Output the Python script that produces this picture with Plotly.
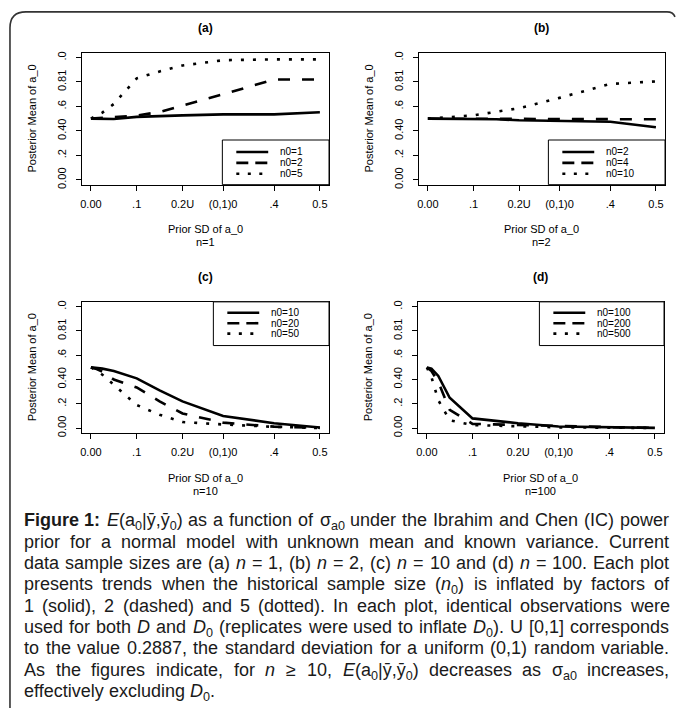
import re
import plotly.graph_objects as go

W, H = 676, 711

# ---------------- data ----------------
sd_grid = [0, 0.01, 0.025, 0.05, 0.1, 0.15, 0.2, 0.2887, 0.4, 0.5]
x_tick_vals = [0, 0.1, 0.2, 0.2887, 0.4, 0.5]
x_tick_text = ["0.00", ".1", "0.2U", "(0,1)0", ".4", "0.5"]
y_tick_vals = [0, 0.2, 0.4, 0.6, 0.8, 1.0]
y_tick_text = ["0.00", ".2", "0.40", ".6", "0.81", ".0"]

# panel (a), n = 1
a_n0_1 = [0.50, 0.50, 0.498, 0.497, 0.515, 0.522, 0.527, 0.535, 0.535, 0.553]
a_n0_2 = [0.50, 0.502, 0.505, 0.51, 0.525, 0.555, 0.605, 0.70, 0.82, 0.82]
a_n0_5 = [0.50, 0.52, 0.55, 0.62, 0.83, 0.886, 0.935, 0.978, 0.985, 0.985]
# panel (b), n = 2
b_n0_2 = [0.50, 0.50, 0.50, 0.50, 0.50, 0.495, 0.487, 0.48, 0.475, 0.43]
b_n0_4 = [0.50, 0.50, 0.50, 0.50, 0.50, 0.498, 0.496, 0.495, 0.495, 0.495]
b_n0_10 = [0.50, 0.502, 0.505, 0.513, 0.527, 0.554, 0.586, 0.67, 0.784, 0.805]
# panel (c), n = 10
c_n0_10 = [0.50, 0.498, 0.49, 0.47, 0.41, 0.31, 0.22, 0.10, 0.04, 0.005]
c_n0_20 = [0.50, 0.49, 0.465, 0.40, 0.335, 0.22, 0.12, 0.045, 0.012, 0.002]
c_n0_50 = [0.50, 0.48, 0.44, 0.355, 0.19, 0.11, 0.05, 0.03, 0.01, 0.001]
# panel (d), n = 100
d_n0_100 = [0.50, 0.49, 0.43, 0.25, 0.08, 0.06, 0.04, 0.013, 0.006, 0.002]
d_n0_200 = [0.50, 0.47, 0.38, 0.15, 0.035, 0.03, 0.022, 0.013, 0.008, 0.002]
d_n0_500 = [0.50, 0.42, 0.23, 0.065, 0.025, 0.02, 0.012, 0.006, 0.003, 0.001]

panel_letters = ["(a)", "(b)", "(c)", "(d)"]
panel_n_labels = ["n=1", "n=2", "n=10", "n=100"]
series_names = [["n0=1", "n0=2", "n0=5"],
                ["n0=2", "n0=4", "n0=10"],
                ["n0=10", "n0=20", "n0=50"],
                ["n0=100", "n0=200", "n0=500"]]
series_values = [[a_n0_1, a_n0_2, a_n0_5],
                 [b_n0_2, b_n0_4, b_n0_10],
                 [c_n0_10, c_n0_20, c_n0_50],
                 [d_n0_100, d_n0_200, d_n0_500]]
x_title = "Prior SD of a_0"
y_title = "Posterior Mean of a_0"

# ---------------- layout helpers ----------------
def px(x):
    return x / W

def py(y):
    return 1 - y / H

# plot boxes in pixels: (left, right, top, bottom)
boxes = [(80, 328, 52, 185), (418, 665, 52, 185),
         (80, 328, 303, 435), (417, 664, 303, 435)]
# legend boxes in pixels: (left, right, top, bottom, row0_y, row_step)
legends = [(221, 328, 140, 185, 152, 11), (548, 665, 140, 185, 152, 11),
           (212, 328, 303, 347, 314, 10.5), (539, 664, 303, 347, 314, 10.5)]

trace_dashes = ["solid", "12px,12px", "3px,9px"]
legend_dashes = ["solid", "12px,7px", "3px,8.5px"]

FONT = "Liberation Sans, Arial, Helvetica, sans-serif"
fig = go.Figure()
annotations = []
shapes = []

for i in range(4):
    ax = "" if i == 0 else str(i + 1)
    L, R, T, B = boxes[i]
    for k in range(3):
        fig.add_trace(go.Scatter(
            x=sd_grid, y=series_values[i][k], mode="lines",
            name=series_names[i][k], showlegend=False,
            line=dict(color="black", width=2.6, dash=trace_dashes[k]),
            xaxis="x" + ax, yaxis="y" + ax, hoverinfo="skip"))
    common = dict(showline=True, mirror=True, linecolor="black", linewidth=1,
                  ticks="outside", ticklen=5, tickwidth=1, tickcolor="black",
                  showgrid=False, zeroline=False,
                  tickfont=dict(family=FONT, size=11, color="black"))
    fig.update_layout(**{
        "xaxis" + ax: dict(domain=[px(L), px(R)], range=[-0.02, 0.52],
                           tickvals=x_tick_vals, ticktext=x_tick_text,
                           anchor="y" + ax, ticklabelstandoff=4, **common),
        "yaxis" + ax: dict(domain=[py(B), py(T)], range=[-0.04, 1.04],
                           tickvals=y_tick_vals, ticktext=y_tick_text,
                           tickangle=-90, anchor="x" + ax,
                           ticklabelstandoff=5, **common),
    })
    cx = (L + R) / 2
    cy = (T + B) / 2
    annotations.append(dict(x=px(cx), y=py(T - 25), xref="paper", yref="paper",
                            text="<b>%s</b>" % panel_letters[i], showarrow=False,
                            font=dict(family=FONT, size=12, color="black"),
                            xanchor="center", yanchor="middle"))
    annotations.append(dict(x=px(cx), y=py(B + 45), xref="paper", yref="paper",
                            text=x_title, showarrow=False,
                            font=dict(family=FONT, size=11, color="black"),
                            xanchor="center", yanchor="middle"))
    annotations.append(dict(x=px(cx), y=py(B + 58), xref="paper", yref="paper",
                            text=panel_n_labels[i], showarrow=False,
                            font=dict(family=FONT, size=11, color="black"),
                            xanchor="center", yanchor="middle"))
    annotations.append(dict(x=px(L - 50), y=py(cy), xref="paper", yref="paper",
                            text=y_title, showarrow=False, textangle=-90,
                            font=dict(family=FONT, size=11, color="black"),
                            xanchor="center", yanchor="middle"))
    # legend
    lL, lR, lT, lB, r0, step = legends[i]
    shapes.append(dict(type="rect", xref="paper", yref="paper",
                       x0=px(lL), x1=px(lR), y0=py(lB), y1=py(lT),
                       line=dict(color="black", width=1), fillcolor="white",
                       layer="above"))
    for k in range(3):
        yy = r0 + k * step
        shapes.append(dict(type="line", xref="paper", yref="paper",
                           x0=px(lL + 14), x1=px(lL + 46), y0=py(yy), y1=py(yy),
                           line=dict(color="black", width=2.6, dash=legend_dashes[k]),
                           layer="above"))
        annotations.append(dict(x=px(lL + 57), y=py(yy), xref="paper", yref="paper",
                                text=series_names[i][k], showarrow=False,
                                font=dict(family=FONT, size=10, color="black"),
                                xanchor="left", yanchor="middle", borderpad=0))

# ---------------- outer rounded frame ----------------
def P(x, y):
    return "%.5f,%.5f" % (px(x), py(y))

frame_path = ("M " + P(8, 712) + " L " + P(8, 27) + " Q " + P(8, 11) + " " + P(24, 11) +
              " L " + P(667, 11) + " Q " + P(673, 11) + " " + P(675, 16))
shapes.append(dict(type="path", xref="paper", yref="paper", path=frame_path,
                   line=dict(color="#333333", width=1.6)))

# ---------------- caption (justified) ----------------
caption_lines = [
    "<b>Figure</b> <b>1:</b> <i>E</i>(a<sub>0</sub>|ȳ,ȳ<sub>0</sub>) as a function of σ<sub>a0</sub> under the Ibrahim and Chen (IC) power",
    "prior for a normal model with unknown mean and known variance. Current",
    "data sample sizes are (a) <i>n</i> = 1, (b) <i>n</i> = 2, (c) <i>n</i> = 10 and (d) <i>n</i> = 100. Each plot",
    "presents trends when the historical sample size (<i>n</i><sub>0</sub>) is inflated by factors of",
    "1 (solid), 2 (dashed) and 5 (dotted). In each plot, identical observations were",
    "used for both <i>D</i> and <i>D</i><sub>0</sub> (replicates were used to inflate <i>D</i><sub>0</sub>). U [0,1] corresponds",
    "to the value 0.2887, the standard deviation for a uniform (0,1) random variable.",
    "As the figures indicate, for <i>n</i> ≥ 10, <i>E</i>(a<sub>0</sub>|ȳ,ȳ<sub>0</sub>) decreases as σ<sub>a0</sub> increases,",
    "effectively excluding <i>D</i><sub>0</sub>.",
]

AW = {" ": 278, "!": 278, "(": 333, ")": 333, ",": 278, "-": 333, ".": 278,
      ":": 278, "=": 584, "[": 278, "]": 278, "|": 260, "≥": 549, "ȳ": 500,
      "σ": 570, "_": 556}
for ch in "0123456789":
    AW[ch] = 556
for ch, w in zip("abcdefghijklmnopqrstuvwxyz",
                 [556, 556, 500, 556, 556, 278, 556, 556, 222, 222, 500, 222, 833,
                  556, 556, 556, 556, 333, 500, 278, 556, 500, 722, 500, 500, 500]):
    AW[ch] = w
for ch, w in zip("ABCDEFGHIJKLMNOPQRSTUVWXYZ",
                 [667, 667, 722, 722, 667, 611, 778, 722, 278, 500, 667, 556, 833,
                  722, 778, 667, 778, 722, 667, 611, 722, 667, 944, 667, 667, 611]):
    AW[ch] = w


def width_em(html):
    total = 0.0
    bold = False
    sub = 0
    for tok in re.split(r"(<[^>]+>)", html):
        if tok.startswith("<"):
            closing = tok.startswith("</")
            t = tok.strip("</>").lower()
            if t == "b":
                bold = not closing
            elif t == "sub":
                sub += -1 if closing else 1
            continue
        for ch in tok:
            w = AW.get(ch, 556)
            if bold:
                w *= 1.07
            if sub:
                w *= 0.7
            total += w
    return total / 1000.0


xL, xR = 21, 668
avail = xR - xL
naturals = []
for line in caption_lines[:-1]:
    words = line.split(" ")
    naturals.append(sum(width_em(w) for w in words) + 0.278 * (len(words) - 1))
fs = round(min(18.0, 0.975 * avail / max(naturals)), 1)

for li, line in enumerate(caption_lines):
    words = line.split(" ")
    ww = [width_em(w) * fs for w in words]
    if li < len(caption_lines) - 1:
        gap = (avail - sum(ww)) / (len(words) - 1)
    else:
        gap = 0.278 * fs
    yc = 523 + 21.5 * li
    x = xL
    for w, wpx in zip(words, ww):
        annotations.append(dict(x=px(x), y=py(yc - 0.62 * fs), xref="paper", yref="paper",
                                text=w, showarrow=False, xanchor="left", yanchor="top",
                                borderpad=0,
                                font=dict(family=FONT, size=fs, color="#1a1a1a")))
        x += wpx + gap

fig.update_layout(width=W, height=H, margin=dict(l=0, r=0, t=0, b=0),
                  paper_bgcolor="white", plot_bgcolor="white",
                  annotations=annotations, shapes=shapes, showlegend=False)

fig.write_html("out.html", config={"displayModeBar": False},
               post_script="document.body.style.margin='0';document.body.style.overflow='hidden';")
